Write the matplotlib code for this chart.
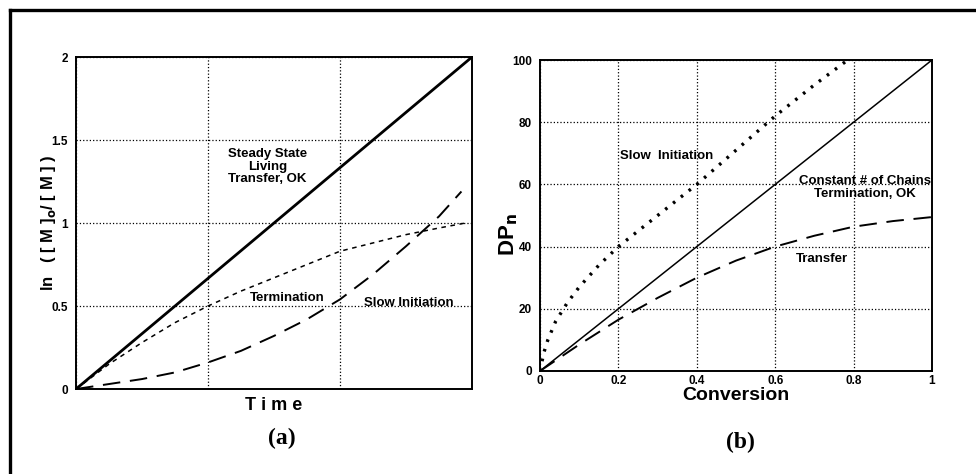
import matplotlib.pyplot as plt
from matplotlib.lines import Line2D

plt.rcParams['font.family'] = ['Liberation Sans', 'DejaVu Sans']

# panel (a): ln([M]o/[M]) versus time
time_ss = [0, 3]
steady_state = [0, 2]

time_term = [0, 0.25, 0.5, 0.75, 1.0, 1.25, 1.5, 1.75, 2.0, 2.25, 2.5, 2.75, 2.95]
termination = [0, 0.15, 0.28, 0.4, 0.5, 0.59, 0.67, 0.75, 0.83, 0.88, 0.93, 0.97, 1.0]

time_slow = [0, 0.25, 0.5, 0.75, 1.0, 1.25, 1.5, 1.75, 2.0, 2.25, 2.5, 2.75, 2.92]
slow_init_a = [0, 0.03, 0.06, 0.1, 0.16, 0.23, 0.32, 0.42, 0.54, 0.69, 0.86, 1.04, 1.19]

# panel (b): DPn versus conversion
conv_const = [0, 1]
const_chains = [0, 100]

conv_slow = [0, 0.01, 0.02, 0.04, 0.07, 0.1, 0.15, 0.2, 0.3, 0.4, 0.5, 0.6, 0.7, 0.785]
slow_init_b = [0, 6, 10, 16, 22, 27, 34, 40, 50, 60, 71, 82, 92, 100]

conv_transfer = [0, 0.1, 0.2, 0.3, 0.4, 0.5, 0.6, 0.7, 0.8, 0.9, 1.0]
transfer = [0, 8.5, 16.5, 23.5, 30, 35.5, 40, 43.5, 46.4, 48.2, 49.5]

fig = plt.figure(figsize=(9.76, 4.74), dpi=100)

# frame lines round the figure (top and left only are visible)
fig.add_artist(Line2D([10 / 976, 1], [1 - 10 / 474] * 2, color='black', lw=2.4,
                      transform=fig.transFigure))
fig.add_artist(Line2D([10 / 976] * 2, [0, 1 - 10 / 474], color='black', lw=2.4,
                      transform=fig.transFigure))


def style_axes(ax):
    for s in ax.spines.values():
        s.set_linewidth(1.4)
    ax.grid(True, linestyle=':', color='black', lw=0.9)
    ax.tick_params(length=0, labelsize=8.5, pad=6)
    for lab in ax.get_xticklabels() + ax.get_yticklabels():
        lab.set_fontweight('bold')


# ---- (a)
ax1 = fig.add_axes([0.0779, 0.1793, 0.4057, 0.7004])
ax1.plot(time_ss, steady_state, color='black', lw=2.0)
ax1.plot(time_term, termination, color='black', lw=1.1, dashes=(3, 3))
ax1.plot(time_slow, slow_init_a, color='black', lw=1.4, dashes=(9, 5))
ax1.set_xlim(0, 3)
ax1.set_ylim(0, 2)
ax1.set_xticks([0, 1, 2, 3])
ax1.set_xticklabels([])
ax1.set_yticks([0, 0.5, 1, 1.5, 2])
ax1.set_yticklabels(['0', '0.5', '1', '1.5', '2'])
style_axes(ax1)
ax1.set_xlabel('T i m e', fontsize=13, fontweight='bold', labelpad=0)
ax1.set_ylabel('ln   ( [ M ]$_\\mathbf{o}$/ [ M ] )', fontsize=12, fontweight='bold')
ax1.yaxis.set_label_coords(-0.045, 0.5)
ax1.text(1.45, 1.34, 'Steady State\nLiving\nTransfer, OK', ha='center', va='center',
         fontsize=9.5, fontweight='bold', linespacing=1.1)
ax1.text(1.6, 0.55, 'Termination', ha='center', va='center', fontsize=9.5, fontweight='bold')
ax1.text(2.52, 0.52, 'Slow Initiation', ha='center', va='center', fontsize=9.5, fontweight='bold')

# ---- (b)
ax2 = fig.add_axes([0.5533, 0.2173, 0.4016, 0.6561])
ax2.plot(conv_const, const_chains, color='black', lw=1.1)
ax2.plot(conv_slow, slow_init_b, color='black', lw=2.4, dashes=(0.8, 2.2))
ax2.plot(conv_transfer, transfer, color='black', lw=1.4, dashes=(9, 5))
ax2.set_xlim(0, 1)
ax2.set_ylim(0, 100)
ax2.set_xticks([0, 0.2, 0.4, 0.6, 0.8, 1])
ax2.set_xticklabels(['0', '0.2', '0.4', '0.6', '0.8', '1'])
ax2.set_yticks([0, 20, 40, 60, 80, 100])
style_axes(ax2)
ax2.tick_params(axis='x', pad=3)
ax2.set_xlabel('Conversion', fontsize=14, fontweight='bold', labelpad=0)
ax2.set_ylabel('DP$_\\mathbf{n}$', fontsize=16, fontweight='bold')
ax2.yaxis.set_label_coords(-0.05, 0.44)
ax2.text(0.205, 69, 'Slow  Initiation', ha='left', va='center', fontsize=9.5, fontweight='bold')
ax2.text(0.83, 59, 'Constant # of Chains\nTermination, OK', ha='center', va='center',
         fontsize=9.5, fontweight='bold', linespacing=1.05)
ax2.text(0.72, 36, 'Transfer', ha='center', va='center', fontsize=9.5, fontweight='bold')

# panel captions
fig.text(282 / 976, 1 - 438 / 474, '(a)', ha='center', va='center', fontsize=17,
         fontweight='bold', family='Liberation Serif')
fig.text(740 / 976, 1 - 442 / 474, '(b)', ha='center', va='center', fontsize=17,
         fontweight='bold', family='Liberation Serif')

plt.savefig('out.png', dpi=100)
